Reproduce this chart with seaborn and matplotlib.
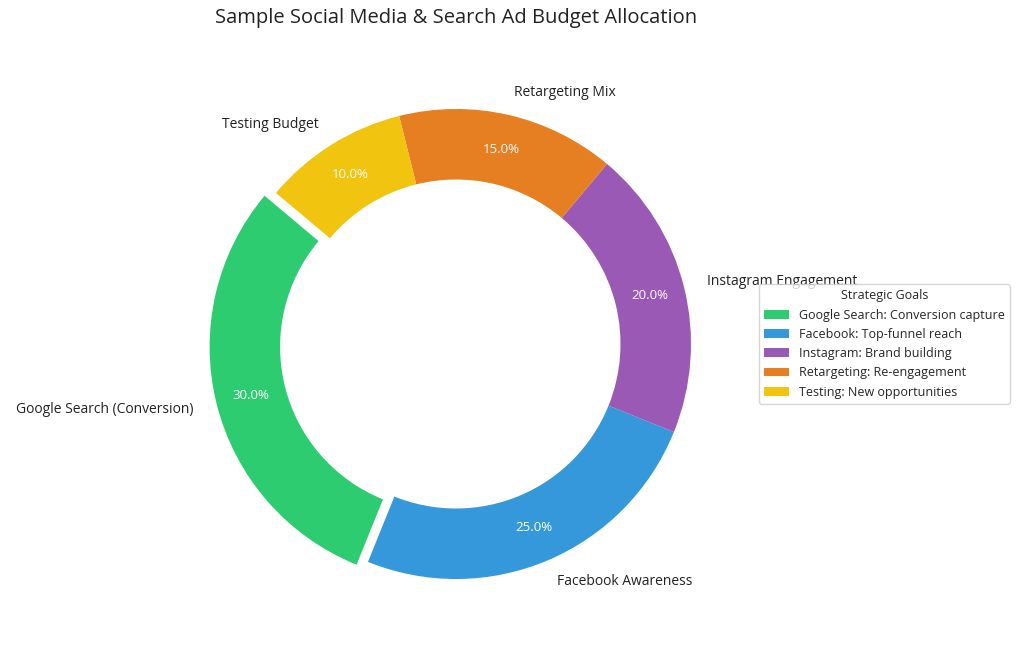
import matplotlib
matplotlib.use("Agg")
import matplotlib.pyplot as plt
import seaborn as sns

# Budget allocation data
channels = ["Google Search (Conversion)", "Facebook Awareness", "Instagram Engagement",
            "Retargeting Mix", "Testing Budget"]
shares = [30, 25, 20, 15, 10]
goals = ["Google Search: Conversion capture", "Facebook: Top-funnel reach",
         "Instagram: Brand building", "Retargeting: Re-engagement",
         "Testing: New opportunities"]
colors = ["#2ecc71", "#3498db", "#9b59b6", "#e67e22", "#f1c40f"]
explode = [0.05, 0, 0, 0, 0]

sns.set_theme(style="white")
plt.rcParams["font.family"] = ["Open Sans", "DejaVu Sans"]

fig = plt.figure(figsize=(10.24, 6.48), dpi=100)
# pie centred around (456, 344) px, radius ~235 px
R = 235
side = 2.5 * R
ax = fig.add_axes([(456 - side / 2) / 1024, (648 - 344 - side / 2) / 648,
                   side / 1024, side / 648])

wedges, texts, autotexts = ax.pie(
    shares, labels=channels, colors=colors, explode=explode,
    autopct="%1.1f%%", startangle=140, pctdistance=0.85,
    wedgeprops=dict(width=0.3, linewidth=0),
    textprops=dict(fontsize=10, color="#222222"))

for t in autotexts:
    t.set_color("white")
    t.set_fontsize(9.5)

ax.set_xlim(-1.25, 1.25)
ax.set_ylim(-1.25, 1.25)
ax.set_aspect("equal")

fig.text(456 / 1024, 1 - 18 / 648, "Sample Social Media & Search Ad Budget Allocation",
         ha="center", va="center", fontsize=14.5, color="#222222")

fig.legend(wedges, goals, title="Strategic Goals", loc="center left",
           bbox_to_anchor=(0.735, 0.469), fontsize=9, title_fontsize=9,
           frameon=True)

fig.savefig("out.png", dpi=100)
